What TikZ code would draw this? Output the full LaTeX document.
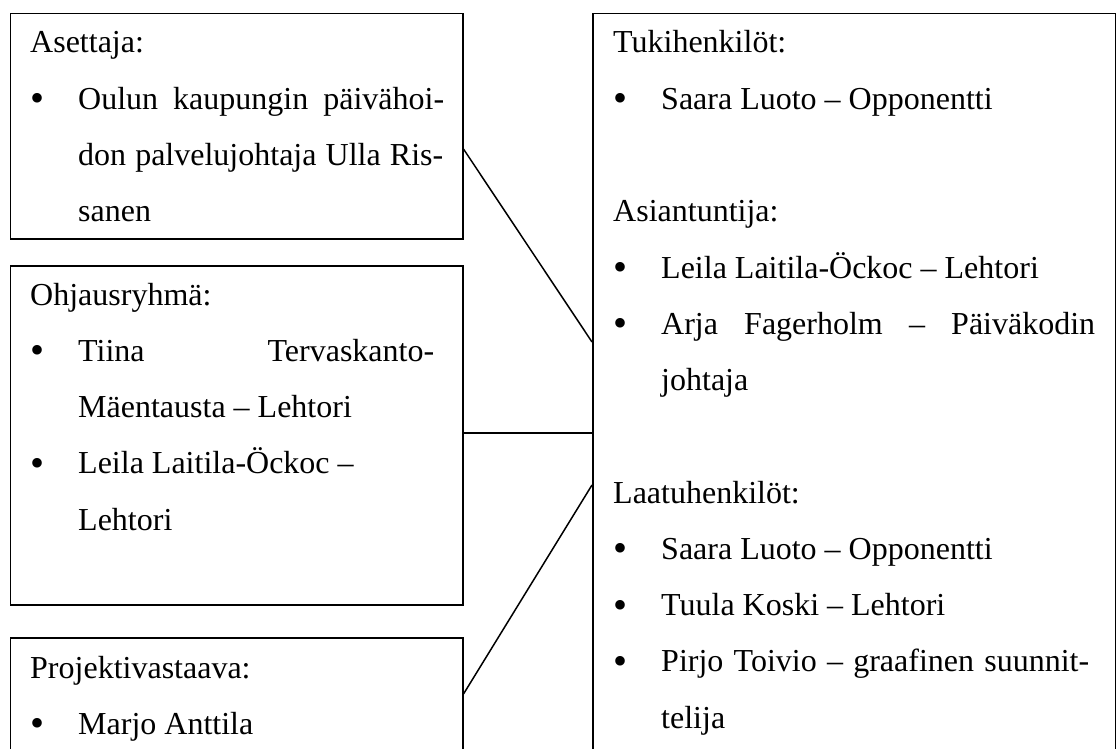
\documentclass[tikz,border=0pt]{standalone}
\usepackage{fontspec}
\setmainfont{Liberation Serif}
\usetikzlibrary{calc}
\newcommand{\bul}{\raisebox{-2.6pt}{\fontsize{40}{40}\selectfont •}}
\tikzset{
  frame/.style={draw, line width=1.5pt, inner sep=0pt, anchor=north west},
  txt/.style={anchor=base west, inner sep=0pt, font=\fontsize{32}{40}\selectfont},
  link/.style={line width=1.5pt},
}
\begin{document}
\begin{tikzpicture}[x=1pt,y=-1pt]
\useasboundingbox (0,0) rectangle (1116,749);
\clip (0,0) rectangle (1116,749);
% frames
\node[frame, minimum width=452.5pt, minimum height=225.3pt] (b1) at (9.5,12.7) {};
\node[frame, minimum width=452.5pt, minimum height=339pt] (b2) at (9.5,265) {};
\node[frame, minimum width=452.5pt, minimum height=250pt] (b3) at (9.5,637) {};
\node[frame, minimum width=523pt, minimum height=850pt] (rb) at (592,12.7) {};
% box 1
\node[txt] (h1) at (30,53) {Asettaja:};
\node[txt] (d11) at (30,109.25) {\bul};
\node[txt] (l11) at (78,109.25) {\makebox[366pt][s]{Oulun kaupungin päivähoi-}};
\node[txt] (l12) at (78,165.5) {\makebox[365pt][s]{don palvelujohtaja Ulla Ris-}};
\node[txt] (l13) at (78,221.75) {sanen};
% box 2
\node[txt] (h2) at (30,305) {Ohjausryhmä:};
\node[txt] (d21) at (30,361.25) {\bul};
\node[txt] (l21) at (78,361.25) {\makebox[356pt][s]{Tiina Tervaskanto-}};
\node[txt] (l22) at (78,417.5) {Mäentausta – Lehtori};
\node[txt] (d22) at (30,473.75) {\bul};
\node[txt] (l23) at (78,473.75) {Leila Laitila-Öckoc –};
\node[txt] (l24) at (78,530) {Lehtori};
% box 3
\node[txt] (h3) at (30,678) {Projektivastaava:};
\node[txt] (d31) at (30,734.25) {\bul};
\node[txt] (l31) at (78,734.25) {Marjo Anttila};
% right box
\node[txt] (r1) at (613,53) {Tukihenkilöt:};
\node[txt] (rd1) at (613,109.25) {\bul};
\node[txt] (r2) at (661,109.25) {Saara Luoto – Opponentti};
\node[txt] (r3) at (613,221.75) {Asiantuntija:};
\node[txt] (rd2) at (613,278) {\bul};
\node[txt] (r4) at (661,278) {Leila Laitila-Öckoc – Lehtori};
\node[txt] (rd3) at (613,334.25) {\bul};
\node[txt] (r5) at (661,334.25) {\makebox[434pt][s]{Arja Fagerholm – Päiväkodin}};
\node[txt] (r6) at (661,390.5) {johtaja};
\node[txt] (r7) at (613,503) {Laatuhenkilöt:};
\node[txt] (rd4) at (613,559.25) {\bul};
\node[txt] (r8) at (661,559.25) {Saara Luoto – Opponentti};
\node[txt] (rd5) at (613,615.5) {\bul};
\node[txt] (r9) at (661,615.5) {Tuula Koski – Lehtori};
\node[txt] (rd6) at (613,671.75) {\bul};
\node[txt] (r10) at (661,671.75) {\makebox[428pt][s]{Pirjo Toivio – graafinen suunnit-}};
\node[txt] (r11) at (661,728) {telija};
% connectors
\draw[link] ($(b1.north east)+(0,136.3)$) -- ($(rb.north west)+(0,329.3)$);
\draw[link] ($(b2.north east)+(0,168)$) -- ($(rb.north west)+(0,420.3)$);
\draw[link] ($(rb.north west)+(0,472.3)$) -- ($(b3.north east)+(0,57)$);
\end{tikzpicture}
\end{document}
